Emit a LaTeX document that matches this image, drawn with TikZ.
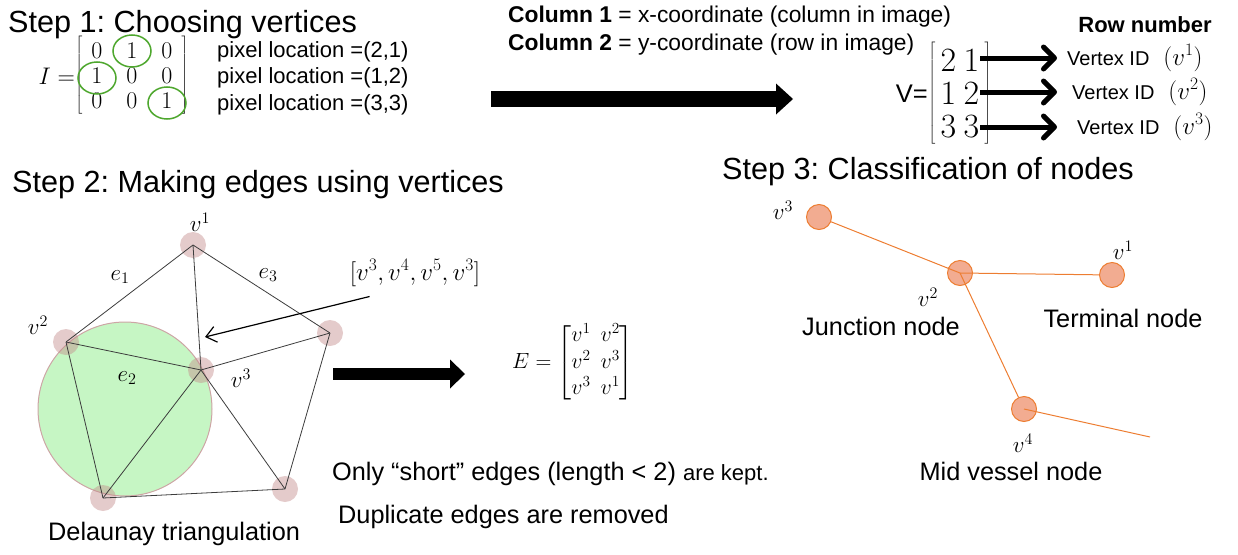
\RequirePackage{fix-cm}
\documentclass[tikz,border=0pt]{standalone}
\usepackage{amsmath}
\usepackage[no-math]{fontspec}
\setmainfont{Liberation Sans}
\usetikzlibrary{positioning, arrows.meta, matrix}
\frenchspacing

\definecolor{pickgreen}{RGB}{78,167,46}
\definecolor{vtxpink}{RGB}{196,140,140}
\definecolor{circgreen}{RGB}{198,246,196}
\definecolor{circedge}{RGB}{205,165,165}
\definecolor{edgegray}{RGB}{60,60,60}
\definecolor{nodefill}{RGB}{242,172,145}
\definecolor{nodeline}{RGB}{237,125,49}

\begin{document}
\begin{tikzpicture}[x=1pt, y=-1pt,
  head/.style={anchor=base west, inner sep=0, font=\fontsize{30.6}{36}\selectfont},
  body/.style={anchor=base west, inner sep=0, font=\fontsize{25.3}{30}\selectfont},
  note/.style={anchor=base west, inner sep=0, font=\fontsize{22}{26}\selectfont},
  lbl/.style={inner sep=0, font=\fontsize{23}{27}\selectfont},
  vid/.style={anchor=west, inner sep=0, font=\fontsize{20}{24}\selectfont},
  pick/.style={draw=pickgreen, line width=1.5pt},
  vtx/.style={circle, fill=vtxpink, fill opacity=0.45, minimum size=26pt, inner sep=0},
  tri/.style={draw=edgegray, line width=0.8pt},
  cnode/.style={circle, fill=nodefill, draw=nodeline, line width=1pt, minimum size=25pt, inner sep=0},
  vessel/.style={draw=nodeline, line width=1pt},
  rowarrow/.style={line width=5pt, -{Straight Barb[length=11pt, width=22pt, round]}},
  thin arrow/.style={line width=1.2pt, -{Straight Barb[length=10pt, width=16pt]}}]

  \useasboundingbox (0,0) rectangle (1238,554);

  % Step 1: image matrix and picked pixels
  \node[head] (h1) at (8,32) {Step 1: Choosing vertices};
  \matrix (mI) [matrix of math nodes, left delimiter={[}, right delimiter={]},
    font=\fontsize{24}{28}\selectfont,
    nodes={minimum width=20pt, minimum height=20pt, inner sep=0},
    column sep=15pt, row sep=5pt] at (132,76) {
    0 & 1 & 0\\
    1 & 0 & 0\\
    0 & 0 & 1\\
  };
  \node[anchor=base east, inner sep=0, font=\fontsize{24}{28}\selectfont] (Ieq) at (75,84) {$I=$};
  \draw[pick] (mI-1-2) ellipse [x radius=19pt, y radius=16pt];
  \draw[pick] ([yshift=-2pt]mI-2-1) ellipse [x radius=19pt, y radius=16pt];
  \draw[pick] ([yshift=-2pt]mI-3-3) ellipse [x radius=19pt, y radius=16pt];

  \node[note] (loc1) at (217,57) {pixel location =(2,1)};
  \node[note] (loc2) at (217,83) {pixel location =(1,2)};
  \node[note] (loc3) at (217,110) {pixel location =(3,3)};

  \node[note, font=\fontsize{22.8}{27}\selectfont] (col1) at (508,22) {\textbf{Column 1} = x-coordinate (column in image)};
  \node[note, font=\fontsize{22.8}{27}\selectfont] (col2) at (508,50) {\textbf{Column 2} = y-coordinate (row in image)};

  \coordinate (a1s) at (491,99);
  \coordinate (a1e) at (793,99);
  \draw[line width=16pt, -{Triangle[length=17pt, width=31pt, line width=0pt]}] (a1s) -- (a1e);

  % vertex list
  \matrix (mV) [matrix of math nodes, left delimiter={[}, right delimiter={]},
    font=\fontsize{34}{40}\selectfont,
    nodes={minimum width=17pt, minimum height=28pt, inner sep=0},
    column sep=6pt, row sep=5pt] at (960,94) {
    2 & 1\\
    1 & 2\\
    3 & 3\\
  };
  \node[anchor=east, inner sep=0, font=\fontsize{25.5}{30}\selectfont] (Veq) at (928,94) {V=};
  \node[anchor=base, inner sep=0, font=\bfseries\fontsize{22}{26}\selectfont] (rown) at (1145,32) {Row number};

  \node[vid] (vid1) at (1067,58) {Vertex ID\hspace{14pt}{\fontsize{25}{30}\selectfont$(v^1)$}};
  \node[vid] (vid2) at (1072,92) {Vertex ID\hspace{14pt}{\fontsize{25}{30}\selectfont$(v^2)$}};
  \node[vid] (vid3) at (1077,127) {Vertex ID\hspace{14pt}{\fontsize{25}{30}\selectfont$(v^3)$}};
  \draw[rowarrow, shorten >=10pt] (mV-1-2.east |- vid1) -- (vid1);
  \draw[rowarrow, shorten >=15pt] (mV-2-2.east |- vid2) -- (vid2);
  \draw[rowarrow, shorten >=20pt] (mV-3-2.east |- vid3) -- (vid3);

  % Step 2: Delaunay triangulation
  \node[head] (h2) at (12,192) {Step 2: Making edges using vertices};
  \draw[draw=circedge, fill=circgreen, line width=1pt] (125,409) circle [radius=87pt];

  \node[vtx] (d1) at (193,245) {};
  \node[vtx] (d2) at (66,342) {};
  \node[vtx] (d3) at (201,370) {};
  \node[vtx] (d4) at (285,489) {};
  \node[vtx] (d5) at (330,333) {};
  \node[vtx] (d6) at (103,498) {};

  \path[tri]
    (d1.center) edge (d2.center)
    (d1.center) edge (d3.center)
    (d1.center) edge (d5.center)
    (d2.center) edge (d3.center)
    (d2.center) edge (d6.center)
    (d3.center) edge (d6.center)
    (d3.center) edge (d5.center)
    (d3.center) edge (d4.center)
    (d5.center) edge (d4.center)
    (d6.center) edge (d4.center);

  \node[lbl] (lv1) at (200,222) {$v^1$};
  \node[lbl] (le1) at (120,277) {$e_1$};
  \node[lbl] (le3) at (268,275) {$e_3$};
  \node[lbl] (lv2) at (38,325) {$v^2$};
  \node[lbl] (le2) at (127,378) {$e_2$};
  \node[lbl] (lv3) at (241,378) {$v^3$};

  \node[lbl, font=\fontsize{25}{30}\selectfont] (cyc) at (415,273) {$[v^3,v^4,v^5,v^3]$};
  \coordinate (cyctip) at (205,337);
  \draw[thin arrow] ([shift={(20pt,-10pt)}]cyc.south west) -- (cyctip);

  \coordinate (a2s) at (333,374);
  \coordinate (a2e) at (465,374);
  \draw[line width=12pt, -{Triangle[length=15pt, width=29pt, line width=0pt]}] (a2s) -- (a2e);

  \node[anchor=west, inner sep=0, font=\fontsize{22}{26.4}\selectfont] (emat) at (512,363)
    {$E=\begin{bmatrix} v^1 & v^2\\ v^2 & v^3\\ v^3 & v^1\end{bmatrix}$};

  \node[body] (short) at (332,480) {Only “short” edges (length < 2) {\fontsize{22}{26}\selectfont are kept.}};
  \node[body] (dup) at (338,523) {Duplicate edges are removed};
  \node[body] (dela) at (48,540) {Delaunay triangulation};

  % Step 3: node classes
  \node[head] (h3) at (722,179) {Step 3: Classification of nodes};
  \node[cnode] (c3) at (819,217) {};
  \node[cnode] (c2) at (960,273) {};
  \node[cnode] (c1) at (1112,275) {};
  \node[cnode] (c4) at (1024,409) {};
  \coordinate (cend) at (1150,437);

  \path[vessel]
    (c3) edge (c2.center)
    (c2.center) edge (c1)
    (c2.center) edge (c4)
    (c4.center) edge (cend);

  \node[lbl] (lc3) at (783,210) {$v^3$};
  \node[lbl] (lc1) at (1123,250) {$v^1$};
  \node[lbl] (lc2) at (928,297) {$v^2$};
  \node[lbl] (lc4) at (1023,443) {$v^4$};

  \node[body, anchor=base] (junc) at (881,335) {Junction node};
  \node[body, anchor=base] (term) at (1123,327) {Terminal node};
  \node[body, anchor=base] (mid) at (1011,480) {Mid vessel node};
\end{tikzpicture}
\end{document}
